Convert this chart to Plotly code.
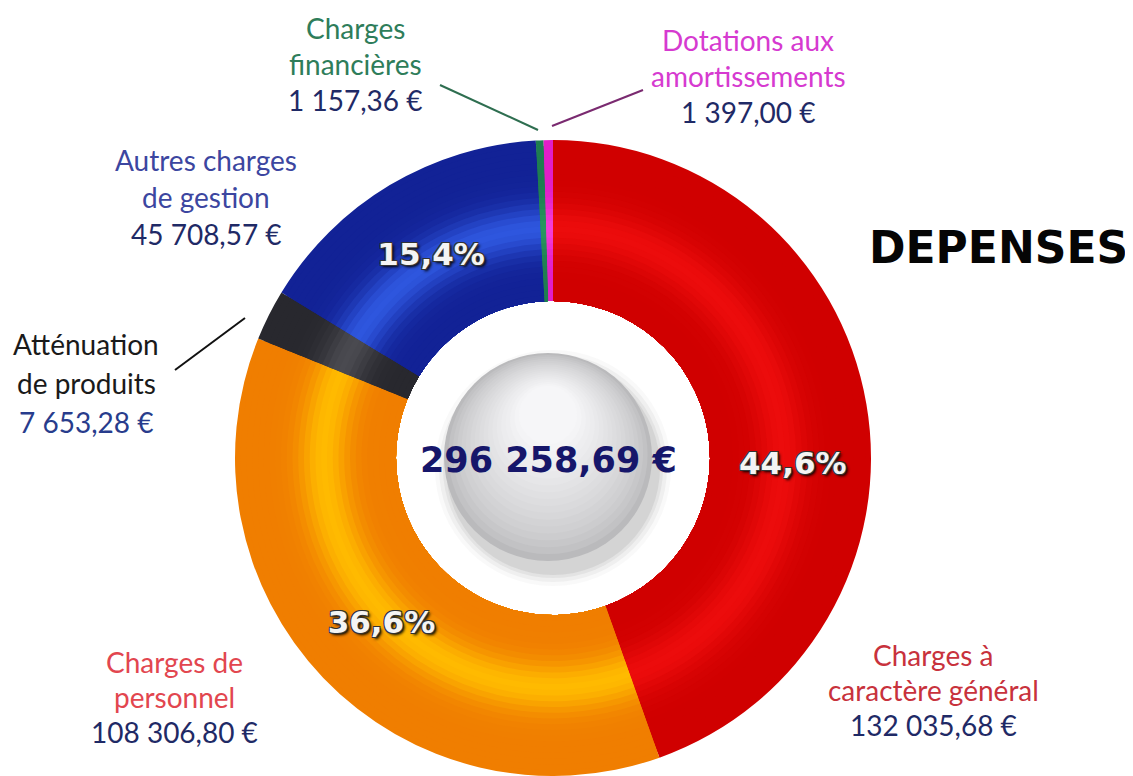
import math
import plotly.graph_objects as go

# ---------------- data ----------------
categories = [
    "Charges à caractère général",
    "Charges de personnel",
    "Atténuation de produits",
    "Autres charges de gestion",
    "Charges financières",
    "Dotations aux amortissements",
]
label_lines = [
    ["Charges à", "caractère général"],
    ["Charges de", "personnel"],
    ["Atténuation", "de produits"],
    ["Autres charges", "de gestion"],
    ["Charges", "financières"],
    ["Dotations aux", "amortissements"],
]
values = [132035.68, 108306.80, 7653.28, 45708.57, 1157.36, 1397.00]
chart_title = "DEPENSES"

# ---------------- styling ----------------
OFF = 8                      # page body margin
W, H = 1133 - OFF, 776 - OFF
CX, CY = 553, 458            # page pixel coordinates
R_OUT, R_IN = 318, 157

edge_cols = [(208, 0, 0), (240, 126, 0), (40, 40, 46), (18, 34, 150), (30, 125, 80), (225, 30, 200)]
peak_cols = [(236, 12, 12), (255, 186, 0), (74, 74, 80), (46, 86, 222), (40, 150, 95), (245, 60, 215)]
name_cols = ["#c8323c", "#e2464f", "#1a1a1a", "#3c46a0", "#2e7d5a", "#d63ad0"]
amount_col = "#1f2a66"
amount_cols = [amount_col, amount_col, "#283c8c", amount_col, amount_col, amount_col]

# label placement: (center x, first line y, line spacing) in page pixels
label_pos = [(933, 655, 35), (174, 662, 35), (86, 344, 39), (206, 160, 37), (355, 28, 36), (748, 40, 36)]
leaders = [None, None, ((175, 370), (245, 318), "#111111"), None,
           ((440, 85), (538, 130), "#2e6e50"), ((552, 126), (643, 90), "#7a2a70")]


def px(x):
    return (x - OFF) / W


def py(y):
    return 1 - (y - OFF) / H


total = sum(values)


def euro(v):
    return f"{v:,.2f}".replace(",", " ").replace(".", ",") + " €"


def pct(v):
    return f"{v / total * 100:.1f}".replace(".", ",") + "%"


def mix(a, b, w):
    return "rgb(%d,%d,%d)" % tuple(round(a[i] + (b[i] - a[i]) * w) for i in range(3))


fig = go.Figure()

# concentric bands to give the ring a soft glossy shading
NB = 28
for k in range(NB):
    r = R_OUT - k * (R_OUT - R_IN) / NB
    r_next = R_OUT - (k + 1) * (R_OUT - R_IN) / NB
    t = ((r + r_next) / 2 - R_IN) / (R_OUT - R_IN)
    w = math.exp(-((t - 0.45) / 0.15) ** 2)
    cols = [mix(edge_cols[i], peak_cols[i], w) for i in range(len(values))]
    fig.add_trace(go.Pie(
        values=values, labels=categories, sort=False, direction="clockwise", rotation=0,
        hole=R_IN / r,
        domain=dict(x=[max(0.0, px(CX - r)), min(1.0, px(CX + r))],
                    y=[max(0.0, py(CY + r)), min(1.0, py(CY - r))]),
        marker=dict(colors=cols, line=dict(width=0)),
        textinfo="none", hoverinfo="skip", showlegend=False,
    ))

pct_font = dict(family="DejaVu Sans", size=31, color="#f4f4f4", weight="bold",
                shadow="-1px -1px 0 #333, 1px -1px 0 #333, -1px 1px 0 #333, 1px 1px 0 #333, 2px 2px 3px #000")

# transparent overlay carrying the percentage texts and hover
pct_text = [pct(v) if i in (1, 3) else "" for i, v in enumerate(values)]
fig.add_trace(go.Pie(
    values=values, labels=categories, sort=False, direction="clockwise", rotation=0,
    hole=R_IN / R_OUT,
    domain=dict(x=[px(CX - R_OUT), px(CX + R_OUT)], y=[max(0.0, py(CY + R_OUT)), py(CY - R_OUT)]),
    marker=dict(colors=["rgba(0,0,0,0)"] * len(values), line=dict(width=0)),
    text=pct_text, textinfo="text", textposition="inside", insidetextorientation="horizontal",
    textfont=pct_font,
    hovertemplate="%{label}<br>%{value:,.2f} €<extra></extra>",
    showlegend=False,
))

shapes = []
# soft shadow under the central sphere
for rr, op in [(118, 0.04), (114, 0.06), (110, 0.08), (107, 0.10)]:
    cx, cy = 553, 468
    shapes.append(dict(type="circle", xref="paper", yref="paper", layer="above",
                       x0=px(cx - rr), x1=px(cx + rr), y0=py(cy + rr), y1=py(cy - rr),
                       fillcolor=f"rgba(90,90,90,{op})", line=dict(width=0)))
# sphere with radial highlight
SCX, SCY, SR = 548, 457, 104
steps = 18
for i in range(steps):
    f = i / (steps - 1)
    rr = SR * (1 - 0.72 * f)
    cy = SCY - 42 * f
    g = round(186 + (246 - 186) * (f ** 0.7))
    shapes.append(dict(type="circle", xref="paper", yref="paper", layer="above",
                       x0=px(SCX - rr), x1=px(SCX + rr), y0=py(cy + rr), y1=py(cy - rr),
                       fillcolor=f"rgb({g},{g},{g + 2})", line=dict(width=0)))

# leader lines
for ld in leaders:
    if ld is None:
        continue
    (x0, y0), (x1, y1), c = ld
    shapes.append(dict(type="line", xref="paper", yref="paper", x0=px(x0), y0=py(y0),
                       x1=px(x1), y1=py(y1), line=dict(color=c, width=2)))

annotations = []
for i, lines in enumerate(label_lines):
    x, y0, dy = label_pos[i]
    for j, ln in enumerate(lines + [euro(values[i])]):
        annotations.append(dict(
            x=px(x), y=py(y0 + j * dy), xref="paper", yref="paper", text=ln, showarrow=False,
            xanchor="center", yanchor="middle",
            font=dict(family="Lato", size=28, color=name_cols[i] if j < len(lines) else amount_cols[i]),
        ))

# red slice percentage (placed like the reference)
annotations.append(dict(
    x=px(793), y=py(463), xref="paper", yref="paper", text=pct(values[0]), showarrow=False,
    xanchor="center", yanchor="middle", font=pct_font,
))
# total in the centre
annotations.append(dict(
    x=px(548), y=py(460), xref="paper", yref="paper", text=euro(total), showarrow=False,
    xanchor="center", yanchor="middle",
    font=dict(family="DejaVu Sans", size=35, color="#16166a", weight="bold"),
))
# title
annotations.append(dict(
    x=px(998), y=py(247), xref="paper", yref="paper", text=chart_title, showarrow=False,
    xanchor="center", yanchor="middle",
    font=dict(family="DejaVu Sans", size=44, color="#050505", weight="bold"),
))

fig.update_layout(
    width=W, height=H, margin=dict(l=0, r=0, t=0, b=0),
    paper_bgcolor="white", plot_bgcolor="white", showlegend=False,
    separators=", ", shapes=shapes, annotations=annotations,
)

fig.write_html("out.html")
